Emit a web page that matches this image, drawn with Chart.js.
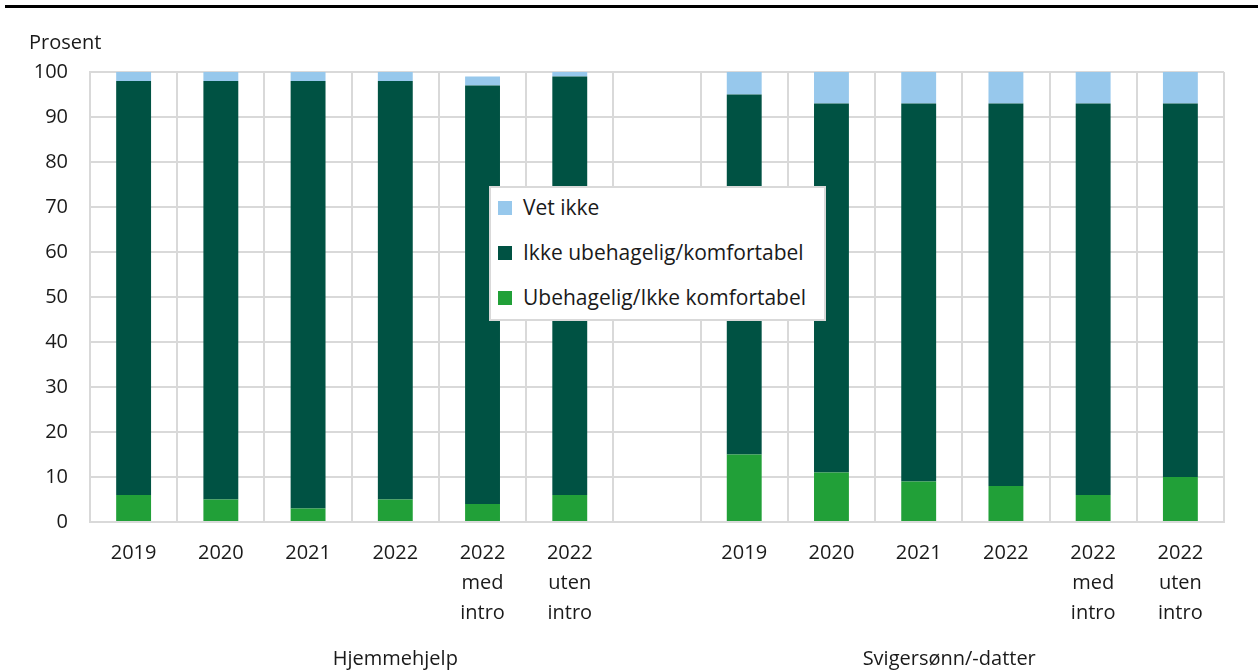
<!DOCTYPE html>
<html>
<head>
<meta charset="utf-8">
<script src="https://cdn.jsdelivr.net/npm/chart.js@4"></script>
<style>
  body { margin: 0; background: #fff; font-family: "Open Sans", sans-serif; }
  #wrap { position: relative; width: 1258px; height: 671px; }
  #topline { position: absolute; left: 5px; right: 0; top: 5px; height: 3px; background: #000; }
  #unit { position: absolute; left: 29px; top: 28px; font-size: 20px; color: #1a1a1a; }
  #legend { position: absolute; left: 489px; top: 186px; width: 333px; height: 131px;
            background: #fff; border: 2px solid #d9d9d9; }
  .item { position: absolute; left: 7px; font-size: 21px; color: #1a1a1a; white-space: nowrap; }
  .item span { display: inline-block; width: 14px; height: 14px; margin-right: 11px; vertical-align: 0px; }
</style>
</head>
<body>
<div id="wrap">
  <canvas id="chart" width="1258" height="671"></canvas>
  <div id="topline"></div>
  <div id="unit">Prosent</div>
  <div id="legend"></div>
</div>
<script>
// DATA
const categories = [
  "2019", "2020", "2021", "2022", ["2022", "med", "intro"], ["2022", "uten", "intro"],
  "",
  "2019", "2020", "2021", "2022", ["2022", "med", "intro"], ["2022", "uten", "intro"]
];
const groups = ["Hjemmehjelp", "Svigersønn/-datter"];
const ubehagelig = [6, 5, 3, 5, 4, 6, null, 15, 11, 9, 8, 6, 10];
const ikkeUbehagelig = [92, 93, 95, 93, 93, 93, null, 80, 82, 84, 85, 87, 83];
const vetIkke = [2, 2, 2, 2, 2, 1, null, 5, 7, 7, 7, 7, 7];
const yTicks = [0, 10, 20, 30, 40, 50, 60, 70, 80, 90, 100];

const FONT = "'Open Sans', sans-serif";
const TEXT = "#1a1a1a";
const GRID = "#d9d9d9";

// group names under the axis
const groupLabels = {
  id: "groupLabels",
  afterDraw(chart) {
    const x = chart.scales.x, ctx = chart.ctx;
    ctx.save();
    ctx.font = "20px " + FONT;
    ctx.fillStyle = TEXT;
    ctx.textAlign = "center";
    ctx.textBaseline = "middle";
    ctx.fillText(groups[0], x.getPixelForValue(3), 659);
    ctx.fillText(groups[1], x.getPixelForValue(9.35), 659);
    ctx.restore();
  }
};

const chart = new Chart(document.getElementById("chart"), {
  type: "bar",
  data: {
    labels: categories,
    datasets: [
      { label: "Ubehagelig/Ikke komfortabel", data: ubehagelig, backgroundColor: "#21a038" },
      { label: "Ikke ubehagelig/komfortabel", data: ikkeUbehagelig, backgroundColor: "#005243" },
      { label: "Vet ikke", data: vetIkke, backgroundColor: "#97c8ec" }
    ]
  },
  options: {
    responsive: false,
    animation: false,
    layout: { padding: { top: 72, right: 34, left: 0, bottom: 0 } },
    datasets: { bar: { barPercentage: 0.4, categoryPercentage: 1 } },
    plugins: { legend: { display: false }, tooltip: { enabled: false } },
    scales: {
      x: {
        stacked: true,
        grid: { color: GRID, lineWidth: 2, drawTicks: false },
        border: { color: GRID, width: 2 },
        ticks: { color: TEXT, font: { family: FONT, size: 20, lineHeight: 1.5 }, padding: 16, maxRotation: 0, autoSkip: false },
        afterFit: s => { s.height = 149; }
      },
      y: {
        stacked: true,
        min: 0, max: 100,
        afterBuildTicks: s => { s.ticks = yTicks.map(v => ({ value: v })); },
        grid: { color: GRID, lineWidth: 2, drawTicks: false },
        border: { color: GRID, width: 2 },
        ticks: { color: TEXT, font: { family: FONT, size: 20 }, padding: 22 },
        afterFit: s => { s.width = 90; }
      }
    }
  },
  plugins: [groupLabels]
});

// LEGEND (reverse stack order)
const legend = document.getElementById("legend");
chart.data.datasets.slice().reverse().forEach((ds, i) => {
  const div = document.createElement("div");
  div.className = "item";
  div.style.top = (5 + i * 45) + "px";
  div.innerHTML = `<span style="background:${ds.backgroundColor}"></span>${ds.label}`;
  legend.appendChild(div);
});
</script>
</body>
</html>
